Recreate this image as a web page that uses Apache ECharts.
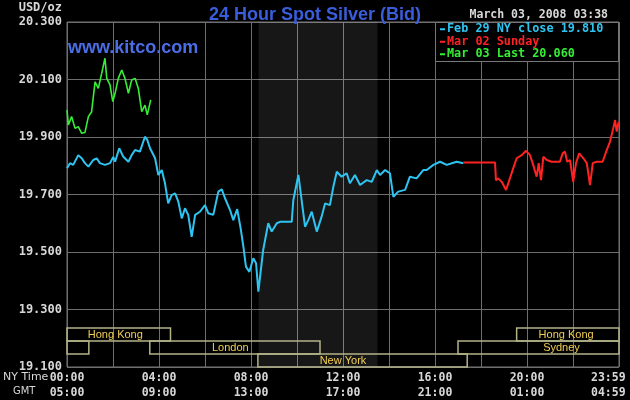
<!DOCTYPE html>
<html><head><meta charset="utf-8">
<script src="https://cdn.jsdelivr.net/npm/echarts@6/dist/echarts.min.js"></script>
<style>html,body{margin:0;padding:0;background:#000;}#c{width:630px;height:400px;}</style>
</head><body><div id="c"></div>
<script>
// ---- data (x in NY-time hours, y in USD/oz) ----
const feb29Hours = [0.00,0.13,0.27,0.49,0.64,0.78,0.93,1.14,1.29,1.43,1.65,1.87,2.01,2.09,2.27,2.45,2.67,2.81,2.96,3.17,3.39,3.49,3.61,3.83,3.97,4.12,4.26,4.40,4.55,4.70,4.84,4.99,5.13,5.27,5.42,5.57,5.78,6.00,6.14,6.36,6.58,6.73,6.87,7.09,7.23,7.40,7.55,7.67,7.78,7.93,8.10,8.22,8.32,8.53,8.75,8.90,9.12,9.26,9.77,9.84,10.06,10.20,10.35,10.49,10.64,10.86,11.07,11.22,11.43,11.58,11.73,11.94,12.16,12.30,12.52,12.74,13.03,13.25,13.47,13.61,13.83,14.04,14.19,14.40,14.70,14.91,15.20,15.49,15.64,15.93,16.22,16.51,16.94,17.23];
const feb29Values = [19.791,19.809,19.803,19.837,19.826,19.809,19.797,19.820,19.826,19.809,19.803,19.809,19.831,19.814,19.861,19.831,19.814,19.837,19.855,19.849,19.901,19.890,19.861,19.826,19.768,19.785,19.739,19.669,19.698,19.704,19.675,19.617,19.652,19.629,19.553,19.629,19.640,19.663,19.635,19.629,19.710,19.718,19.687,19.646,19.611,19.649,19.582,19.518,19.449,19.431,19.478,19.461,19.362,19.507,19.600,19.571,19.600,19.605,19.605,19.681,19.768,19.681,19.588,19.611,19.640,19.571,19.623,19.669,19.663,19.727,19.779,19.762,19.774,19.739,19.768,19.733,19.750,19.744,19.785,19.768,19.785,19.774,19.692,19.710,19.716,19.762,19.756,19.785,19.785,19.803,19.814,19.803,19.814,19.809];
const mar02Hours = [17.23,18.61,18.65,18.75,18.90,19.09,19.23,19.40,19.55,19.77,19.96,20.13,20.27,20.42,20.51,20.61,20.71,20.86,21.07,21.43,21.55,21.65,21.75,21.87,22.01,22.13,22.27,22.45,22.60,22.74,22.86,23.03,23.29,23.47,23.61,23.75,23.83,23.90,23.99];
const mar02Values = [19.811,19.811,19.750,19.756,19.744,19.716,19.750,19.791,19.826,19.837,19.852,19.837,19.803,19.762,19.809,19.750,19.831,19.820,19.814,19.814,19.843,19.849,19.814,19.820,19.744,19.809,19.843,19.826,19.809,19.733,19.809,19.814,19.814,19.855,19.884,19.930,19.959,19.919,19.953];
const mar03Hours = [0.00,0.06,0.20,0.35,0.49,0.64,0.78,0.93,1.07,1.22,1.36,1.51,1.65,1.73,1.87,1.99,2.09,2.23,2.38,2.52,2.67,2.81,2.96,3.10,3.25,3.39,3.49,3.64];
const mar03Values = [19.994,19.942,19.971,19.930,19.936,19.913,19.916,19.971,19.988,20.092,20.069,20.122,20.174,20.104,20.081,20.023,20.052,20.104,20.133,20.104,20.052,20.098,20.104,20.069,19.988,20.011,19.977,20.029];
const seriesNames = ['Feb 29 NY close 19.810','Mar 02 Sunday','Mar 03 Last 20.060'];
const nyLabels = {0:'00:00',4:'04:00',8:'08:00',12:'12:00',16:'16:00',20:'20:00',24:'23:59'};
const gmtLabels = {0:'05:00',4:'09:00',8:'13:00',12:'17:00',16:'21:00',20:'01:00',24:'04:59'};
// market sessions
const sessionNames = ['Hong Kong','','London','New York','Sydney','Hong Kong'];
const sessionStart = [0,0,3.6,8.3,17.0,19.55];
const sessionEnd   = [4.5,0.95,11.0,17.4,24,24];
const sessionRow   = [0,1,1,2,1,0];
const sessionLabelAt = [2.1,0,7.1,12.0,21.5,21.7];
const shadeStart = 8.33, shadeEnd = 13.5;

const rowEdges = [19.2357,19.1904,19.1452,19.1];
const mono = '"DejaVu Sans Mono", monospace';
const zip = (a,b)=>a.map((x,i)=>[x,b[i]]);
const sessionData = sessionNames.map((n,i)=>[sessionStart[i],sessionEnd[i],sessionRow[i],sessionLabelAt[i],n]);

const chart = echarts.init(document.getElementById('c'));
chart.setOption({
  backgroundColor:'#000',
  animation:false,
  title:{text:'24 Hour Spot Silver (Bid)',left:'center',top:1,
    textStyle:{color:'#3a5ddc',fontSize:18,fontWeight:'bold',fontFamily:'"Liberation Sans", Arial'}},
  legend:{orient:'vertical',left:440,top:23,padding:0,itemGap:0,itemWidth:5,itemHeight:2,icon:'rect',
    data:[{name:seriesNames[0],textStyle:{color:'#2ec4f2'}},{name:seriesNames[1],textStyle:{color:'#ff2222'}},{name:seriesNames[2],textStyle:{color:'#36ee36'}}],
    textStyle:{fontFamily:mono,fontSize:11.8,fontWeight:'bold',lineHeight:12.5,padding:[0,0,0,-3]},
    selectedMode:false},
  grid:{left:67,right:11,top:22,bottom:33,show:true,borderColor:'#777',borderWidth:1,containLabel:false,outerBoundsMode:'none'},
  xAxis:{type:'value',min:0,max:24,interval:2,
    axisLine:{show:false},axisTick:{show:false},
    splitLine:{show:true,lineStyle:{color:'#6e6e6e',width:1}},
    axisLabel:{margin:4,color:'#d8d8d8',fontFamily:mono,fontSize:11.5,fontWeight:'bold',lineHeight:15,
      formatter:function(v){ if(nyLabels[v]===undefined) return ''; if(v===24) return '{e|'+nyLabels[v]+'}\n{e|'+gmtLabels[v]+'}'; return nyLabels[v]+'\n'+gmtLabels[v];},
      rich:{e:{width:56,align:'left',fontFamily:mono,fontSize:11.5,fontWeight:'bold',color:'#d8d8d8',lineHeight:15}}}},
  yAxis:{type:'value',min:19.1,max:20.3,interval:0.1,
    axisLine:{show:false},axisTick:{show:false},
    splitLine:{show:true,showMinLine:true,showMaxLine:true,lineStyle:{color:['#6e6e6e','rgba(0,0,0,0)'],width:1}},
    axisLabel:{margin:5,color:'#d8d8d8',fontFamily:mono,fontSize:12,fontWeight:'bold',
      formatter:function(v){return Math.round(v*10)%2===1? v.toFixed(3):'';}}},
  graphic:[
    {type:'text',right:630-62,top:2,style:{text:'USD/oz',fill:'#d8d8d8',font:'bold 12px '+mono}},
    {type:'text',left:68,top:39,style:{text:'www.kitco.com',fill:'#4b6ee6',font:'bold 18px "Liberation Sans", Arial'}},
    {type:'text',right:22,top:9,style:{text:'March 03, 2008 03:38',fill:'#d8d8d8',font:'bold 11.5px '+mono}},
    {type:'rect',shape:{x:435.5,y:22.5,width:183,height:39},style:{fill:'#000',stroke:'#777',lineWidth:1},z:1},
    {type:'text',left:3,top:372,style:{text:'NY Time',fill:'#d8d8d8',font:'11px "DejaVu Sans"'}},
    {type:'text',left:13,top:386,style:{text:'GMT',fill:'#d8d8d8',font:'11px "DejaVu Sans Condensed", "DejaVu Sans"'}}
  ],
  series:[
    {name:seriesNames[0],type:'line',data:zip(feb29Hours,feb29Values),showSymbol:false,z:3,
      lineStyle:{color:'#2ec4f2',width:2},itemStyle:{color:'#2ec4f2'},
      markArea:{silent:true,itemStyle:{color:'rgba(255,255,255,0.09)'},data:[[{xAxis:shadeStart},{xAxis:shadeEnd}]]}},
    {name:seriesNames[1],type:'line',data:zip(mar02Hours,mar02Values),showSymbol:false,z:3,
      lineStyle:{color:'#ff2222',width:2},itemStyle:{color:'#ff2222'}},
    {name:seriesNames[2],type:'line',data:zip(mar03Hours,mar03Values),showSymbol:false,z:3,
      lineStyle:{color:'#36ee36',width:1.6},itemStyle:{color:'#36ee36'}},
    {type:'custom',data:sessionData,silent:true,z:4,encode:{x:[0,1]},
      renderItem:function(params,api){
        const s=api.value(0), e=api.value(1), r=api.value(2), l=api.value(3);
        const name=sessionNames[params.dataIndex];
        const p0=api.coord([s,rowEdges[r]]), p1=api.coord([e,rowEdges[r+1]]);
        const pm=api.coord([l,(rowEdges[r]+rowEdges[r+1])/2]);
        const children=[{type:'rect',shape:{x:p0[0],y:p0[1],width:p1[0]-p0[0],height:p1[1]-p0[1]},
          style:{fill:null,stroke:'#b4b48a',lineWidth:1.5}}];
        if(name) children.push({type:'text',x:pm[0],y:pm[1],style:{text:name,fill:'#f0cf55',font:'11px "Liberation Sans", Arial',align:'center',verticalAlign:'middle'}});
        return {type:'group',children:children};
      }}
  ]
});
</script></body></html>
